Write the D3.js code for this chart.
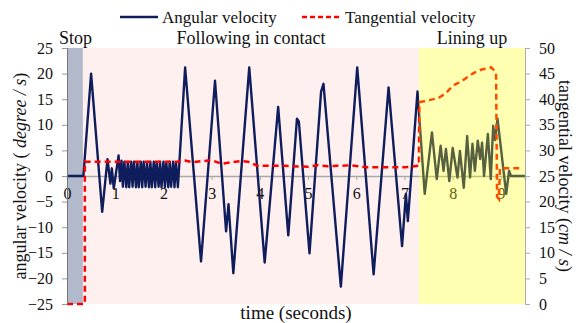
<!DOCTYPE html>
<html>
<head>
<meta charset="utf-8">
<script src="https://cdn.jsdelivr.net/npm/d3@7"></script>
<style>
  body { margin: 0; background: #fff; }
  text { font-family: "Liberation Serif", "Times New Roman", serif; fill: #111; }
</style>
</head>
<body>
<svg class="main-graphic"></svg>
<script>
// angular velocity (deg/s) vs time (s)
var angTime = [0, 0.34, 0.5, 0.73, 0.84, 0.9, 0.93, 0.97, 1.07, 1.1, 1.13,
  1.16, 1.19, 1.23, 1.26, 1.29, 1.33, 1.36, 1.39, 1.43, 1.46, 1.49, 1.53, 1.56, 1.59, 1.63,
  1.66, 1.70, 1.73, 1.76, 1.80, 1.83, 1.86, 1.90, 1.93, 1.96, 2.00, 2.03, 2.06, 2.10, 2.13,
  2.16, 2.20, 2.23, 2.26, 2.30,
  2.45, 2.78, 3.07, 3.3, 3.35, 3.45, 3.78, 4.1, 4.38, 4.59, 4.77, 4.81, 5.03, 5.27, 5.32,
  5.68, 6.02, 6.36, 6.67, 6.95, 7.03, 7.07, 7.27,
  7.42, 7.57, 7.67, 7.75, 7.81, 7.86, 7.93, 8.0, 8.10, 8.15, 8.23, 8.30, 8.36, 8.41, 8.46,
  8.52, 8.57, 8.61, 8.65, 8.73, 8.79, 8.84, 8.88, 8.93, 9.11, 9.17, 9.21, 9.5];
var angValue = [0, 0, 20, -7, 3.3, -1.5, 1.5, -2.4, 4, -1, 3,
  -2.1, 2.8, -2.2, 2.7, -2.2, 2.8, -2.1, 2.8, -2.2, 2.7, -2.2, 2.8, -2.2, 2.8, -2.1,
  2.7, -2.2, 2.8, -2.2, 2.8, -2.2, 2.7, -2.1, 2.8, -2.2, 2.8, -2.2, 2.7, -2.2, 2.8,
  -2.1, 2.8, -2.2, 2.7, -2.2,
  21.2, -16.7, 18.6, -10.8, -5.5, -19, 21.2, -16.9, 13.5, -11.6, 11.2, 10.6, -15.1, 16.5, 18,
  -21.6, 21.2, -19.2, 17.3, -13.7, -3.5, -8.8, 16.5,
  -3.5, 8.5, -0.6, 5.9, 1, 5.3, -1, 5.5, -0.3, 4.9, -2.3, 7.8, -0.3, 6.3, 1,
  6.9, 3.3, 6.5, 0, 8.2, -0.6, 9.8, 7, 11.2, -3.5, 1, 0, 0];

// tangential velocity (cm/s) vs time (s)
var tanTime = [0, 0.37, 0.37, 2.3, 2.45, 2.6, 3.0, 3.2, 3.6, 3.75, 3.95, 4.5, 5.0, 5.2, 5.4,
  5.9, 6.2, 7.0, 7.3, 7.31, 7.5, 7.7, 7.85, 8.0, 8.2, 8.3, 8.45, 8.6, 8.8, 8.9, 8.92, 8.96, 8.98, 9.42];
var tanValue = [0, 0, 27.8, 27.8, 28, 27.7, 28.1, 27.4, 27.9, 27.8, 27, 27, 26.8, 27.1, 26.9,
  27.1, 26.7, 26.7, 27, 39.4, 39.8, 40.2, 41.1, 42.6, 43.6, 44.3, 45.2, 45.8, 46.2, 45.2, 21, 20.5, 26.5, 26.5];

var phaseNames = ["Stop", "Following in contact", "Lining up"];
var phaseStart = [0, 0.33, 7.3];
var phaseEnd = [0.33, 7.3, 9.5];

var leftTicks = [-25, -20, -15, -10, -5, 0, 5, 10, 15, 20, 25];
var rightTicks = [0, 5, 10, 15, 20, 25, 30, 35, 40, 45, 50];
var timeTicks = [0, 1, 2, 3, 4, 5, 6, 7, 8, 9];

var margin = {top: 48, right: 56, bottom: 19, left: 67},
    width = 581 - margin.left - margin.right,
    height = 323 - margin.top - margin.bottom;

var svg = d3.select(".main-graphic")
    .attr("width", 581)
    .attr("height", 323);

var g = svg.append("g")
    .attr("transform", "translate(" + margin.left + "," + margin.top + ")");

var x = d3.scaleLinear().domain([0, 9.5]).range([0, width]);
var yL = d3.scaleLinear().domain([-25, 25]).range([height, 0]);
var yR = d3.scaleLinear().domain([0, 50]).range([height, 0]);

// phase backgrounds (stop + following under the lines)
var phaseFill = ["#b1b9cb", "#fff0f0"];
[0, 1].forEach(function(i) {
  g.append("rect")
    .attr("x", x(phaseStart[i]))
    .attr("y", 0)
    .attr("width", x(phaseEnd[i]) - x(phaseStart[i]))
    .attr("height", height)
    .attr("fill", phaseFill[i]);
});

// time axis along zero
var xAxis = g.append("g")
    .attr("transform", "translate(0," + yL(0) + ")")
    .call(d3.axisBottom(x).tickValues(timeTicks).tickSize(4).tickPadding(8).tickFormat(d3.format("d")));
xAxis.select(".domain").attr("stroke", "#a9a9a9").attr("stroke-width", 1.5);
xAxis.selectAll(".tick line").attr("stroke", "#a9a9a9");
xAxis.selectAll("text").attr("font-size", 16).attr("fill", "#111").attr("font-family", "Liberation Serif");

var angLine = d3.line()
    .x(function(d) { return x(angTime[d]); })
    .y(function(d) { return yL(angValue[d]); });
var tanLine = d3.line()
    .x(function(d) { return x(tanTime[d]); })
    .y(function(d) { return yR(tanValue[d]); });

g.append("path")
    .attr("d", angLine(d3.range(angTime.length)))
    .attr("fill", "none")
    .attr("stroke", "#0f1d5c")
    .attr("stroke-width", 2.4)
    .attr("stroke-linejoin", "round");

g.append("path")
    .attr("d", tanLine(d3.range(tanTime.length)))
    .attr("fill", "none")
    .attr("stroke", "#ff0000")
    .attr("stroke-width", 2.5)
    .attr("stroke-dasharray", "6,4");

// lining up overlay on top
g.append("rect")
    .attr("x", x(phaseStart[2]))
    .attr("y", 0)
    .attr("width", x(phaseEnd[2]) - x(phaseStart[2]))
    .attr("height", height)
    .attr("fill", "rgba(255,255,0,0.3)");

// left axis
var la = g.append("g")
    .call(d3.axisLeft(yL).tickValues(leftTicks).tickSize(5).tickPadding(9));
la.select(".domain").attr("stroke", "#777");
la.selectAll(".tick line").attr("stroke", "#999");
la.selectAll("text").attr("font-size", 16).attr("fill", "#111").attr("font-family", "Liberation Serif");

// right axis
var ra = g.append("g")
    .attr("transform", "translate(" + width + ",0)")
    .call(d3.axisRight(yR).tickValues(rightTicks).tickSize(5).tickPadding(9));
ra.select(".domain").attr("stroke", "#aaa");
ra.selectAll(".tick line").attr("stroke", "#aaa");
ra.selectAll("text").attr("font-size", 16).attr("fill", "#111").attr("font-family", "Liberation Serif");

// phase labels
phaseNames.forEach(function(name, i) {
  g.append("text")
    .attr("x", i == 0 ? x(phaseStart[0]) - 8 : (x(phaseStart[i]) + x(phaseEnd[i])) / 2)
    .attr("y", -4)
    .attr("text-anchor", i == 0 ? "start" : "middle")
    .attr("font-size", 18)
    .text(name);
});

// axis titles
svg.append("text")
    .attr("x", margin.left + width / 2)
    .attr("y", 319)
    .attr("text-anchor", "middle")
    .attr("font-size", 19)
    .text("time (seconds)");

var lt = svg.append("text")
    .attr("transform", "translate(26," + (margin.top + yL(0)) + ") rotate(-90)")
    .attr("text-anchor", "middle")
    .attr("font-size", 18);
lt.append("tspan").text("angular velocity ( ");
lt.append("tspan").attr("font-style", "italic").text("degree / s");
lt.append("tspan").text(")");

var rt = svg.append("text")
    .attr("transform", "translate(559," + (margin.top + yL(0)) + ") rotate(90)")
    .attr("text-anchor", "middle")
    .attr("font-size", 18);
rt.append("tspan").text("tangential velocity (");
rt.append("tspan").attr("font-style", "italic").text("cm / s");
rt.append("tspan").text(")");

// legend
var legend = svg.append("g").attr("transform", "translate(0,17)");
legend.append("line")
    .attr("x1", 120).attr("x2", 158).attr("y1", 0).attr("y2", 0)
    .attr("stroke", "#0f1d5c").attr("stroke-width", 2.5);
legend.append("text")
    .attr("x", 162).attr("y", 6).attr("font-size", 17)
    .text("Angular velocity");
legend.append("line")
    .attr("x1", 302).attr("x2", 342).attr("y1", 0).attr("y2", 0)
    .attr("stroke", "#ff0000").attr("stroke-width", 2.5)
    .attr("stroke-dasharray", "5,3");
legend.append("text")
    .attr("x", 345).attr("y", 6).attr("font-size", 17)
    .text("Tangential velocity");
</script>
</body>
</html>
